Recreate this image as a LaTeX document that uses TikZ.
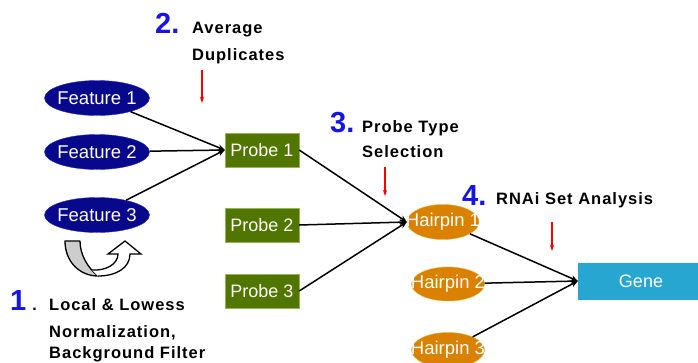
\documentclass[tikz,border=0pt]{standalone}
\usepackage{fontspec}
\setmainfont{Liberation Sans}
\newfontfamily\notefont[LetterSpace=6]{Liberation Sans}
\usetikzlibrary{shapes.geometric,arrows.meta}

\definecolor{featblue}{RGB}{8,8,140}
\definecolor{featedge}{RGB}{40,40,200}
\definecolor{probegreen}{RGB}{80,118,0}
\definecolor{probeedge}{RGB}{150,180,90}
\definecolor{hairorange}{RGB}{218,130,0}
\definecolor{hairedge}{RGB}{235,170,60}
\definecolor{genecyan}{RGB}{40,166,210}
\definecolor{numblue}{RGB}{20,20,235}
\definecolor{uturngray}{RGB}{205,205,205}

% label that does not widen its node
\newcommand{\nowide}[1]{\makebox[0pt]{#1}}

\begin{document}
\begin{tikzpicture}[x=1pt,y=-1pt,>={Stealth[length=7pt,width=6pt]},
  feat/.style={ellipse,fill=featblue,draw=featedge,minimum width=105pt,minimum height=35pt,inner sep=0pt,text=white,font=\fontsize{18.5}{18.5}\selectfont},
  probe/.style={rectangle,fill=probegreen,draw=probeedge,minimum width=74pt,minimum height=34pt,inner sep=0pt,text=white,font=\fontsize{18}{18}\selectfont},
  hair/.style={ellipse,fill=hairorange,draw=hairedge,minimum width=72pt,minimum height=35pt,inner sep=0pt,text=white,font=\fontsize{18.5}{18.5}\selectfont},
  gene/.style={rectangle,fill=genecyan,minimum width=126pt,minimum height=37pt,inner sep=0pt,text=white,font=\fontsize{18}{18}\selectfont},
  link/.style={->,line width=1.5pt},
  mark arrow/.style={->,red,line width=1.3pt,>={Stealth[length=6pt,width=4pt]}},
  num/.style={anchor=base west,inner sep=0pt,text=numblue,font=\fontsize{29}{29}\selectfont\bfseries},
  note/.style={anchor=base west,inner sep=0pt,font=\notefont\fontsize{16.5}{16.5}\selectfont\bfseries}]
\useasboundingbox (0,0) rectangle (698,362);

% features, probes, hairpins, gene
\node[feat] (f1) at (97,98) {\nowide{Feature 1}};
\node[feat] (f2) at (97,152) {\nowide{Feature 2}};
\node[feat] (f3) at (97,215) {\nowide{Feature 3}};
\node[probe] (p1) at (262,150) {Probe 1};
\node[probe] (p2) at (262,225) {Probe 2};
\node[probe] (p3) at (262,291) {Probe 3};
\node[hair] (h1) at (443,222) {\nowide{Hairpin 1}};
\node[hair,minimum width=73pt,minimum height=34pt] (h2) at (448,284) {\nowide{Hairpin 2}};
\node[hair,minimum width=73pt,minimum height=35pt] (h3) at (448,350) {\nowide{Hairpin 3}};
\node[gene] (g) at (641,281) {Gene};

% collapse arrows
\foreach \f in {f1,f2,f3}
  \draw[link] (\f) -- (p1.west);
\foreach \p in {p1,p2,p3}
  \draw[link] (\p.east) -- (h1.west);
\foreach \h in {h1,h2,h3}
  \draw[link] (\h) -- (g.west);

% step labels
\node[num] (n2) at (155,33) {2.};
\node[note] (s2a) at (192,33) {Average};
\node[note] (s2b) at (192,60) {Duplicates};
\node[num] (n3) at (330,132) {3.};
\node[note] (s3a) at (362,132) {Probe Type};
\node[note] (s3b) at (362,157) {Selection};
\node[num] (n4) at (462,205) {4.};
\node[note] (s4a) at (496,204) {RNAi Set Analysis};
\node[num] (n1) at (10,310) {1\hspace{6pt}{\fontsize{16}{16}\selectfont\color{black}.}};
\node[note] (s1a) at (49,310) {Local \& Lowess};
\node[note] (s1b) at (49,337) {Normalization,};
\node[note] (s1c) at (49,358) {Background Filter};

% red pointers
\coordinate (r2a) at (202,70);  \coordinate (r2b) at (202,103);
\coordinate (r3a) at (385,167); \coordinate (r3b) at (385,196);
\coordinate (r4a) at (552,222); \coordinate (r4b) at (552,251);
\draw[mark arrow] (r2a) -- (r2b);
\draw[mark arrow] (r3a) -- (r3b);
\draw[mark arrow] (r4a) -- (r4b);

% u-turn arrow under feature 3
\draw[line width=1.3pt,fill=uturngray,line join=round]
  (65,241) .. controls (65,262) and (80,276) .. (98,276)
  .. controls (88,268) and (80,255) .. (80,241) -- cycle;
\draw[line width=1.3pt,fill=white,line join=miter]
  (98,276) .. controls (116,276) and (130,268) .. (130,254)
  -- (141,254) -- (125,241) -- (108,254) -- (118,254)
  .. controls (118,264) and (106,271) .. (92,270);
\end{tikzpicture}
\end{document}
